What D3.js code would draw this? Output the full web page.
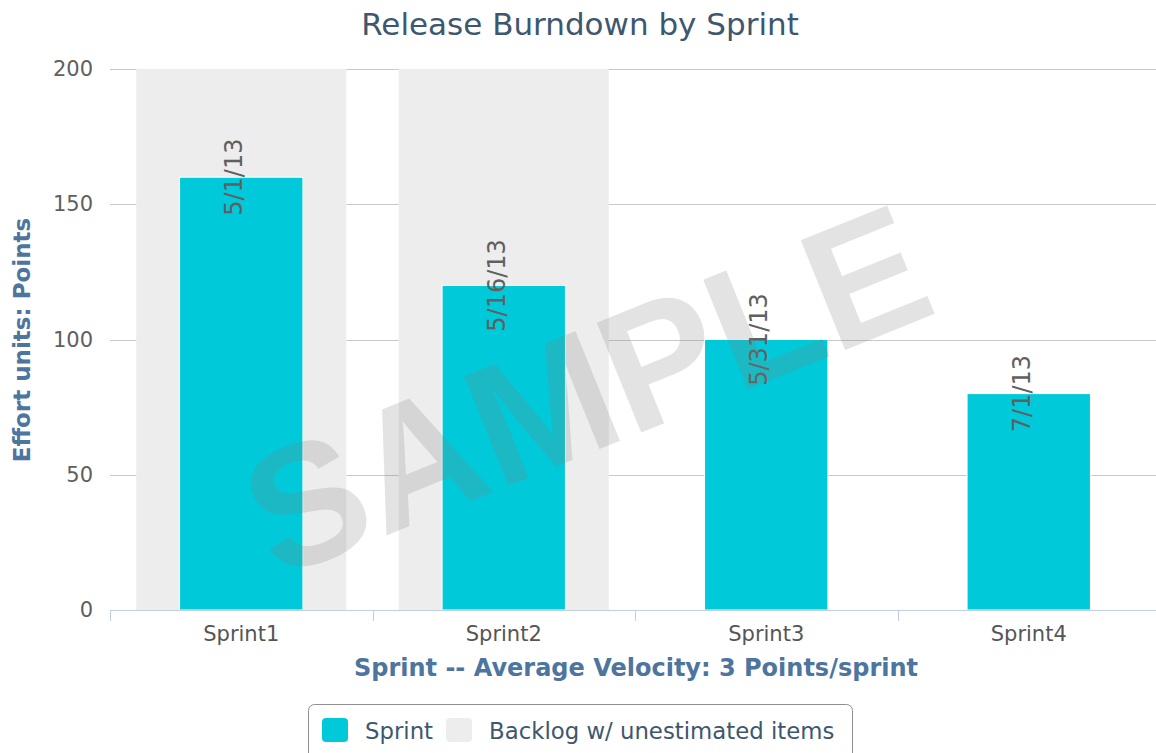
<!DOCTYPE html>
<html>
<head>
<meta charset="utf-8">
<script src="https://cdn.jsdelivr.net/npm/d3@7/dist/d3.min.js"></script>
<style>
  html, body { margin: 0; padding: 0; background: #fff; }
  svg { display: block; font-family: "DejaVu Sans", Verdana, sans-serif; }
</style>
</head>
<body>
<svg id="chart" width="1156" height="753"></svg>
<script>
// Chart data
const sprints = ["Sprint1", "Sprint2", "Sprint3", "Sprint4"];
const sprintPoints = [160, 120, 100, 80];
const backlogPoints = [200, 200, 0, 0];
const sprintDates = ["5/1/13", "5/16/13", "5/31/13", "7/1/13"];
const yTicks = [0, 50, 100, 150, 200];

const svg = d3.select("#chart");
const W = 1156, H = 753;
const margin = { left: 110, right: -4, top: 69, bottom: 143 };
const plotW = W - margin.left - margin.right;
const plotH = H - margin.top - margin.bottom;

const x = d3.scaleBand().domain(sprints).range([0, plotW]).paddingInner(0).paddingOuter(0);
const y = d3.scaleLinear().domain([0, 200]).range([plotH, 0]);

const g = svg.append("g").attr("transform", `translate(${margin.left},${margin.top})`);

// Horizontal grid lines
g.append("g")
  .selectAll("line")
  .data(yTicks.filter(d => d > 0))
  .join("line")
  .attr("x1", 0).attr("x2", plotW)
  .attr("y1", d => Math.round(y(d)) + 0.5).attr("y2", d => Math.round(y(d)) + 0.5)
  .attr("stroke", "#c8c8c8").attr("stroke-width", 1);

// Backlog (wide, behind) bars
const backW = x.bandwidth() * 0.8;
g.append("g")
  .selectAll("rect")
  .data(sprints.map((s, i) => ({ s, v: backlogPoints[i] })))
  .join("rect")
  .attr("x", d => x(d.s) + (x.bandwidth() - backW) / 2)
  .attr("width", backW)
  .attr("y", d => y(d.v))
  .attr("height", d => y(0) - y(d.v))
  .attr("fill", "#ededed");

// Sprint bars
const barW = x.bandwidth() * 0.47;
g.append("g")
  .selectAll("rect")
  .data(sprints.map((s, i) => ({ s, v: sprintPoints[i] })))
  .join("rect")
  .attr("x", d => x(d.s) + (x.bandwidth() - barW) / 2)
  .attr("width", barW)
  .attr("y", d => y(d.v))
  .attr("height", d => y(0) - y(d.v))
  .attr("fill", "#00cad9")
  .attr("stroke", "#ffffff").attr("stroke-width", 1);

// Watermark
svg.append("text")
  .attr("transform", "translate(586,390) rotate(-22)")
  .attr("text-anchor", "middle")
  .attr("dominant-baseline", "central")
  .attr("font-family", "Liberation Sans, Arial, sans-serif")
  .attr("font-weight", "bold")
  .attr("font-size", 172)
  .attr("fill", "rgb(128,128,128)")
  .attr("fill-opacity", 0.22)
  .text("SAMPLE");

// Rotated date labels centred on each bar top
g.append("g")
  .selectAll("text")
  .data(sprints.map((s, i) => ({ s, v: sprintPoints[i], t: sprintDates[i] })))
  .join("text")
  .attr("transform", d => `translate(${x(d.s) + x.bandwidth() / 2 + 1},${y(d.v)}) rotate(-90)`)
  .attr("text-anchor", "middle")
  .attr("font-size", 24)
  .attr("fill", "#606060")
  .text(d => d.t);

// X axis
const xAxis = g.append("g").attr("transform", `translate(0,${plotH})`);
xAxis.append("line")
  .attr("x1", 0).attr("x2", plotW).attr("y1", 0.5).attr("y2", 0.5)
  .attr("stroke", "#c0d0e0");
xAxis.selectAll("line.tick")
  .data(sprints)
  .join("line")
  .attr("class", "tick")
  .attr("x1", d => Math.round(x(d)) + 0.5).attr("x2", d => Math.round(x(d)) + 0.5)
  .attr("y1", 0).attr("y2", 11)
  .attr("stroke", "#c0d0e0");
xAxis.selectAll("text")
  .data(sprints)
  .join("text")
  .attr("x", d => x(d) + x.bandwidth() / 2)
  .attr("y", 31)
  .attr("text-anchor", "middle")
  .attr("font-size", 21)
  .attr("fill", "#555")
  .text(d => d);

// Y axis tick labels
g.append("g")
  .selectAll("text")
  .data(yTicks)
  .join("text")
  .attr("x", -17)
  .attr("y", d => y(d) + 7)
  .attr("text-anchor", "end")
  .attr("font-size", 21)
  .attr("fill", "#606060")
  .text(d => d);

// Title
svg.append("text")
  .attr("x", 580).attr("y", 35)
  .attr("text-anchor", "middle")
  .attr("font-size", 31)
  .attr("fill", "#3e576f")
  .text("Release Burndown by Sprint");

// Axis titles
svg.append("text")
  .attr("x", 636).attr("y", 676)
  .attr("text-anchor", "middle")
  .attr("font-size", 24)
  .attr("font-weight", "bold")
  .attr("fill", "#4d759e")
  .text("Sprint -- Average Velocity: 3 Points/sprint");

svg.append("text")
  .attr("transform", "translate(30,340) rotate(-90)")
  .attr("text-anchor", "middle")
  .attr("font-size", 23)
  .attr("font-weight", "bold")
  .attr("fill", "#4d759e")
  .text("Effort units: Points");

// Legend
const legend = svg.append("g");
legend.append("rect")
  .attr("x", 308.5).attr("y", 704.5).attr("width", 544).attr("height", 70)
  .attr("rx", 6).attr("fill", "#fff").attr("stroke", "#909090");
const legendItems = [
  { label: "Sprint", color: "#00cad9" },
  { label: "Backlog w/ unestimated items", color: "#ededed" }
];
let lx = 322;
legendItems.forEach(item => {
  legend.append("rect")
    .attr("x", lx).attr("y", 718).attr("width", 26).attr("height", 24)
    .attr("rx", 4).attr("fill", item.color);
  const t = legend.append("text")
    .attr("x", lx + 43).attr("y", 739)
    .attr("font-size", 22.8)
    .attr("fill", "#3e576f")
    .text(item.label);
  lx += 43 + t.node().getComputedTextLength() + 13;
});
</script>
</body>
</html>
